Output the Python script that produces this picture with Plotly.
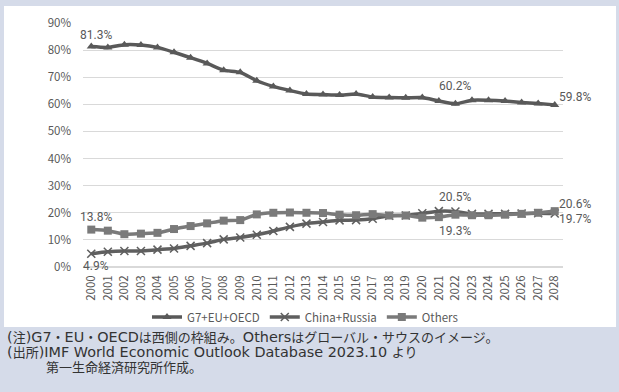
import re
import plotly.graph_objects as go

years = [str(y) for y in range(2000, 2029)]
g7 = [81.3, 81.0, 82.0, 81.9, 81.0, 79.2, 77.2, 75.1, 72.6, 71.8, 68.7, 66.6, 65.1, 63.8,
      63.6, 63.4, 63.8, 62.7, 62.5, 62.4, 62.5, 61.2, 60.2, 61.5, 61.5, 61.2, 60.7, 60.3, 59.8]
china_russia = [4.9, 5.6, 5.9, 5.9, 6.4, 6.8, 7.8, 8.8, 10.2, 10.9, 11.9, 13.3, 14.8, 16.0,
                16.6, 17.2, 17.3, 17.8, 18.9, 19.0, 19.8, 20.6, 20.5, 19.6, 19.6, 19.6, 19.7, 19.8, 19.7]
others = [13.8, 13.4, 12.1, 12.3, 12.6, 14.0, 15.1, 16.1, 17.1, 17.3, 19.4, 20.0, 20.1, 20.0,
          19.9, 19.3, 19.1, 19.5, 19.0, 19.0, 18.2, 18.4, 19.3, 19.1, 19.1, 19.3, 19.6, 20.0, 20.6]
series_names = ["G7+EU+OECD", "China+Russia", "Others"]
notes = [
    "(注)G7・EU・OECDは西側の枠組み。Othersはグローバル・サウスのイメージ。",
    "(出所)IMF World Economic Outlook Database 2023.10 より",
    "　　　第一生命経済研究所作成。",
]

W, H = 619, 392
L, R, T, B = 83, 56, 23, 125
PW, PH = W - L - R, H - T - B

def px(x):
    return (x - L) / PW

def py(y):
    return (H - B - y) / PH

TXT = "#595959"
FONT = "Noto Sans CJK JP"
LABEL_FONT = "Roboto"
NOTE_FONT = "DejaVu Sans, Noto Sans CJK JP"

def style_runs(s):
    # Latin runs slightly larger than the Japanese runs, like the reference typeface
    parts = re.findall(r"[\x20-\x7e]+|[^\x20-\x7e]+", s)
    out = []
    for p in parts:
        size = "14.4px" if re.match(r"[\x20-\x7e]", p) else "13px"
        out.append(f'<span style="font-size:{size}">{p}</span>')
    return "".join(out)

fig = go.Figure()
fig.add_trace(go.Scatter(
    x=years, y=g7, name=series_names[0], mode="lines+markers",
    line=dict(color="#595959", width=3.5, shape="spline", smoothing=0.6),
    marker=dict(symbol="triangle-up", size=8, color="#595959")))
fig.add_trace(go.Scatter(
    x=years, y=china_russia, name=series_names[1], mode="lines+markers",
    line=dict(color="#5f5f5f", width=3.5, shape="spline", smoothing=0.6),
    marker=dict(symbol="x-thin-open", size=8, line=dict(color="#5f5f5f", width=1.5))))
fig.add_trace(go.Scatter(
    x=years, y=others, name=series_names[2], mode="lines+markers",
    line=dict(color="#7a7a7a", width=3.5, shape="spline", smoothing=0.6),
    marker=dict(symbol="square", size=8, color="#7a7a7a")))

anns = []
def lab(xi, yv, dx, dy, xanchor="center"):
    anns.append(dict(x=xi, y=yv, xref="x", yref="y", text=f"{yv:.1f}%",
                     showarrow=False, xshift=dx, yshift=dy, xanchor=xanchor,
                     font=dict(size=12, color=TXT, family=LABEL_FONT)))

lab(0, g7[0], 5, 12)
lab(22, g7[22], 0, 18)
lab(28, g7[28], 2, 8, "left")
lab(0, china_russia[0], 5, -12)
lab(22, china_russia[22], 0, 14)
lab(28, china_russia[28], 2, -5, "left")
lab(0, others[0], 5, 13)
lab(22, others[22], 0, -16)
lab(28, others[28], 2, 7, "left")

anns.append(dict(x=px(5), y=py(327), xref="paper", yref="paper",
                 text="<br>".join(style_runs(n) for n in notes),
                 showarrow=False, xanchor="left", yanchor="top", align="left",
                 font=dict(size=11.5, color="#333333", family=NOTE_FONT)))

fig.update_layout(
    width=W, height=H, margin=dict(l=L, r=R, t=T, b=B),
    paper_bgcolor="#d5dbe9", plot_bgcolor="white",
    font=dict(family=FONT, color=TXT, size=11),
    showlegend=True,
    legend=dict(orientation="h", x=px(305), xanchor="center", y=py(317), yanchor="middle",
                bgcolor="rgba(0,0,0,0)", font=dict(size=11.5, color=TXT),
                itemwidth=30, tracegroupgap=0),
    annotations=anns,
    shapes=[dict(type="rect", xref="paper", yref="paper", x0=px(4), x1=px(616),
                 y0=py(327), y1=py(6), fillcolor="white", line=dict(width=0), layer="below")],
)
fig.update_xaxes(type="category", range=[-0.5, 28.5], tickangle=-90, showgrid=False,
                 showline=False, ticks="", ticklabelstandoff=5,
                 tickfont=dict(size=11.5, color=TXT))
fig.update_yaxes(range=[0, 90], dtick=10, ticksuffix="%", showgrid=True, gridcolor="#d9d9d9",
                 gridwidth=1, zeroline=True, zerolinecolor="#d9d9d9", showline=False,
                 ticks="", ticklabelstandoff=11, tickfont=dict(size=11.5, color=TXT))

fig.write_html("out.html")
